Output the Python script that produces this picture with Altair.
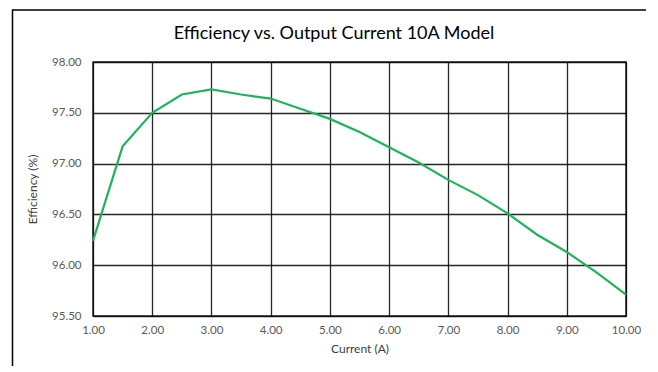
import altair as alt
import pandas as pd

current = [1.0, 1.5, 2.0, 2.5, 3.0, 3.5, 4.0, 4.5, 5.0, 5.5, 6.0, 6.5, 7.0, 7.5, 8.0, 8.5, 9.0, 9.5, 10.0]
efficiency = [96.24, 97.17, 97.50, 97.68, 97.73, 97.68, 97.64, 97.54, 97.44, 97.31, 97.16, 97.01, 96.84, 96.69, 96.51, 96.30, 96.13, 95.93, 95.71]
x_ticks = [1, 2, 3, 4, 5, 6, 7, 8, 9, 10]
y_ticks = [95.5, 96.0, 96.5, 97.0, 97.5, 98.0]
title_text = ["Efficiency vs. Output Current 10A Model"]

df = pd.DataFrame({"current": current, "efficiency": efficiency})

FONT = "Lato"
W, H = 533, 254

frame = alt.Chart(pd.DataFrame({"a": [0]})).mark_rect(
    fill=None, stroke="#000000", strokeWidth=1.5
).encode(
    x=alt.value(-80.5), x2=alt.value(561), y=alt.value(-52), y2=alt.value(330)
)

title = alt.Chart(pd.DataFrame({"t": title_text})).mark_text(
    font=FONT, fontSize=18, color="#000000", align="center", baseline="middle"
).encode(
    text="t:N", x=alt.value(241), y=alt.value(-28)
)

line = alt.Chart(df).mark_line(color="#1fb35a", strokeWidth=2.2, clip=False).encode(
    x=alt.X("current:Q", scale=alt.Scale(domain=[1, 10], nice=False, zero=False),
            axis=alt.Axis(values=x_ticks, format=".2f", title="Current (A)",
                          grid=True, gridColor="#000000", gridOpacity=0.85, gridWidth=1.3,
                          domain=False, ticks=False, labelPadding=8, titlePadding=8,
                          labelFlush=False, labelOverlap=False)),
    y=alt.Y("efficiency:Q", scale=alt.Scale(domain=[95.5, 98.0], nice=False, zero=False),
            axis=alt.Axis(values=y_ticks, format=".2f", title="Efficiency (%)",
                          grid=True, gridColor="#000000", gridOpacity=0.85, gridWidth=1.3,
                          domain=False, ticks=False, labelPadding=12, titlePadding=12,
                          labelFlush=False, labelOverlap=False)),
)

chart = alt.layer(frame, title, line).properties(
    width=W, height=H,
    autosize=alt.AutoSizeParams(type="none"),
    padding={"left": 85, "top": 54, "right": 20, "bottom": 50},
).configure_view(
    stroke="#000000", strokeWidth=1.5, strokeOpacity=0.85
).configure_axis(
    labelFont=FONT, labelFontSize=11.5, labelColor="#595959",
    titleFont=FONT, titleFontSize=12, titleColor="#404040", titleFontWeight="normal"
)

chart.save("out.html", embed_options={"renderer": "svg", "actions": False})
